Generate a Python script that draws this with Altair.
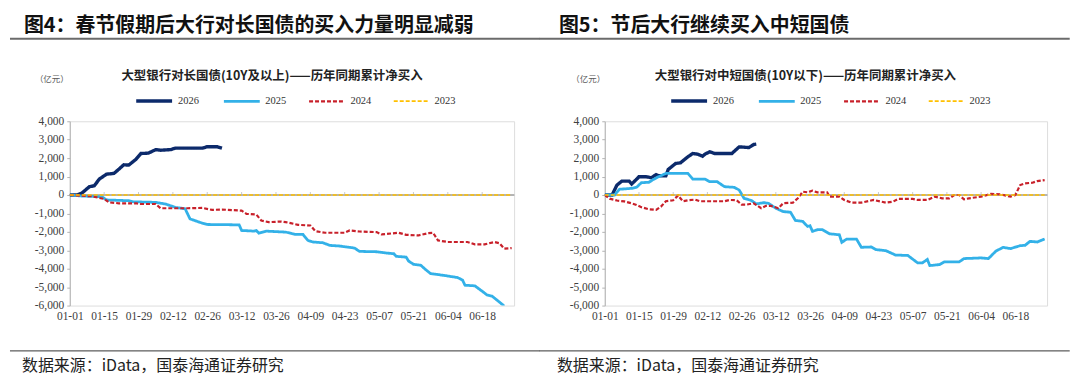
import altair as alt
import pandas as pd

# ---------------- data ----------------
SERIES = ["2026", "2025", "2024", "2023"]
COLORS = ["#0c2a6b", "#33b1e8", "#c8202a", "#ffc000"]
DASHES = [[1, 0], [1, 0], [4, 2], [4, 2]]
WIDTHS = [3.4, 1.6, 1.6, 2.2]

TICK_DAYS = [0, 14, 28, 42, 56, 70, 84, 98, 112, 126, 140, 154, 168]
Y_TICKS = [-6000, -5000, -4000, -3000, -2000, -1000, 0, 1000, 2000, 3000, 4000]

# left panel: long-term bonds (10Y+)
L26_DAY = [0, 3, 5, 8, 10, 12, 15, 18, 20, 22, 24, 27, 29, 32, 35, 37, 41, 43, 54, 56, 60, 62]
L26_VAL = [0, 0, 110, 450, 500, 860, 1130, 1170, 1400, 1640, 1620, 1940, 2250, 2270, 2460, 2430,
           2460, 2540, 2540, 2620, 2620, 2540]
L25_DAY = [0, 5, 13, 15, 24, 26, 35, 39, 43, 47, 49, 51, 54, 56, 69, 70, 75, 76, 77, 80, 88, 92,
           95, 97, 99, 103, 106, 110, 116, 118, 125, 129, 132, 133, 137, 138, 140, 143, 145, 147,
           152, 158, 160, 161, 165, 168, 170, 172, 174, 177]
L25_VAL = [0, -60, -90, -270, -310, -370, -400, -490, -670, -750, -1300, -1390, -1530, -1600,
           -1620, -1925, -1960, -1925, -2070, -1960, -2015, -2140, -2140, -2465, -2550, -2590,
           -2735, -2770, -2880, -3060, -3080, -3150, -3185, -3330, -3370, -3580, -3760, -3815,
           -4050, -4265, -4355, -4480, -4620, -4895, -4930, -5220, -5430, -5485, -5700, -6030]
L24_DAY = [0, 9, 12, 14, 16, 20, 27, 29, 35, 37, 48, 54, 58, 62, 70, 72, 76, 78, 81, 86, 88, 90,
           93, 98, 100, 104, 112, 114, 118, 125, 127, 134, 137, 142, 146, 148, 150, 154, 162, 165,
           169, 173, 175, 177, 180]
L24_VAL = [0, -70, -160, -215, -400, -450, -450, -490, -490, -720, -720, -700, -810, -790, -850,
           -1025, -1060, -1385, -1475, -1440, -1475, -1530, -1620, -1655, -1960, -2050, -2050,
           -1925, -1980, -2015, -2140, -2050, -2160, -2195, -2070, -2050, -2465, -2550, -2550,
           -2680, -2680, -2550, -2620, -2915, -2880]
L23_DAY = [0, 180]
L23_VAL = [0, 0]

# right panel: short/medium-term bonds (<10Y)
R26_DAY = [0, 3, 5, 7, 10, 11, 13, 14, 17, 19, 21, 22, 25, 26, 29, 31, 34, 36, 38, 40, 41, 43,
           45, 52, 55, 59, 61, 62]
R26_VAL = [0, 0, 540, 755, 755, 595, 850, 990, 990, 935, 1100, 1045, 1045, 1390, 1710, 1745,
           2070, 2250, 2215, 2105, 2215, 2345, 2250, 2250, 2610, 2575, 2740, 2760]
R25_DAY = [0, 4, 6, 11, 13, 15, 18, 20, 22, 25, 34, 36, 41, 43, 46, 49, 53, 55, 57, 60, 62, 65,
           67, 70, 73, 76, 78, 81, 83, 84, 85, 87, 89, 92, 96, 97, 99, 103, 105, 109, 111, 115,
           119, 124, 128, 130, 132, 133, 137, 139, 145, 147, 154, 157, 160, 163, 166, 170, 172,
           174, 177, 180]
R25_VAL = [0, 0, 310, 360, 415, 670, 685, 850, 990, 1170, 1170, 865, 865, 720, 720, 450, 415,
           270, -180, -300, -485, -415, -450, -720, -900, -935, -1380, -1435, -1705, -1670,
           -1975, -1885, -1880, -2105, -2160, -2570, -2390, -2390, -2840, -2820, -2965, -3020,
           -3260, -3280, -3680, -3680, -3500, -3830, -3775, -3630, -3630, -3450, -3415, -3450,
           -3050, -2840, -2910, -2750, -2730, -2515, -2550, -2390]
R24_DAY = [0, 1, 2, 5, 8, 11, 13, 15, 18, 21, 23, 25, 28, 30, 32, 34, 37, 39, 49, 51, 54, 56, 58,
           61, 64, 66, 68, 71, 73, 77, 79, 81, 83, 85, 87, 91, 92, 96, 98, 101, 105, 110, 115,
           118, 120, 126, 128, 132, 135, 138, 141, 143, 145, 147, 149, 154, 158, 162, 166, 168,
           170, 172, 175, 177, 180]
R24_VAL = [0, -100, -200, -300, -350, -450, -540, -665, -770, -810, -630, -340, -285, -30, -340,
           -285, -250, -340, -340, -270, -285, -520, -520, -450, -720, -590, -590, -720, -450,
           -415, -180, 180, 145, 235, 145, 145, -90, -90, -270, -415, -415, -270, -415, -360,
           -215, -215, -270, -270, -90, -180, -180, 0, 0, -235, -180, -90, 55, 35, -90, 0, 540,
           630, 665, 755, 810]
R23_DAY = [0, 180]
R23_VAL = [0, 0]

L_FIG_TITLE = "图4：春节假期后大行对长国债的买入力量明显减弱"
R_FIG_TITLE = "图5：节后大行继续买入中短国债"
L_CHART_TITLE = "大型银行对长国债(10Y及以上)——历年同期累计净买入"
R_CHART_TITLE = "大型银行对中短国债(10Y以下)——历年同期累计净买入"
UNIT = "（亿元）"
SOURCE = "数据来源：iData，国泰海通证券研究"

CJK = "Noto Sans CJK SC"
SERIF = "Liberation Serif, Times New Roman, serif"
AXIS_GRAY = "#b4b4b4"


def frame(pairs):
    rows = []
    for name, days, vals in pairs:
        for d, v in zip(days, vals):
            rows.append({"series": name, "day": d, "value": v})
    return pd.DataFrame(rows)


def panel(df, fig_title, chart_title, width, height, line_x0, line_x1, title_cx, unit_x):
    xscale = alt.Scale(domain=[0, 181], nice=False, zero=False)
    yscale = alt.Scale(domain=[-6000, 4000], nice=False)
    xaxis = alt.Axis(values=TICK_DAYS, domain=False, ticks=False, grid=False,
                     labelExpr="timeFormat(datetime(2023, 0, 1 + datum.value), '%m-%d')",
                     labelFont=SERIF, labelFontSize=11.5, labelColor="#404040",
                     labelPadding=5, labelOverlap=False, labelFlush=False, title=None)
    yaxis = alt.Axis(values=Y_TICKS, grid=False, domainColor=AXIS_GRAY, tickColor=AXIS_GRAY,
                     tickSize=3, labelPadding=3, labelOverlap=False, labelFlush=False,
                     labelExpr="replace(format(datum.value, ','), '\u2212', '-')",
                     labelFont=SERIF, labelFontSize=11.5, labelColor="#404040", title=None)
    leg = alt.Legend(orient="none", legendX=64.7, legendY=-40.5, direction="horizontal",
                     title=None, symbolType="stroke", symbolSize=1296, labelFont=SERIF,
                     labelFontSize=10.5, labelColor="#333333", columnPadding=18.5,
                     labelOffset=4)

    base = alt.Chart(df)
    lines = base.mark_line(strokeCap="butt", clip=True).encode(
        x=alt.X("day:Q", scale=xscale, axis=xaxis),
        y=alt.Y("value:Q", scale=yscale, axis=yaxis),
        color=alt.Color("series:N", scale=alt.Scale(domain=SERIES, range=COLORS), legend=leg,
                        sort=SERIES),
        strokeDash=alt.StrokeDash("series:N", scale=alt.Scale(domain=SERIES, range=DASHES),
                                  legend=leg, sort=SERIES),
        strokeWidth=alt.StrokeWidth("series:N", scale=alt.Scale(domain=SERIES, range=WIDTHS),
                                    legend=leg, sort=SERIES),
        order=alt.Order("series:N", sort="ascending"),
    )

    tdf = pd.DataFrame({"day": TICK_DAYS[1:]})
    zero_rule = alt.Chart(tdf).mark_rule(color=AXIS_GRAY, strokeWidth=1).encode(
        y=alt.YDatum(0, scale=yscale, axis=yaxis))
    ticks = alt.Chart(tdf).mark_tick(orient="vertical", size=3, thickness=1, color=AXIS_GRAY,
                                     yOffset=-1.5).encode(
        x=alt.X("day:Q", scale=xscale, axis=xaxis),
        y=alt.YDatum(0, scale=yscale, axis=yaxis))

    one = pd.DataFrame({"a": [0]})
    fig_t = alt.Chart(one).mark_text(text=fig_title, font=CJK, fontSize=20, fontWeight="bold",
                                     align="left", baseline="alphabetic", color="#111111").encode(
        x=alt.value(-46), y=alt.value(-89.5))
    top_line = alt.Chart(one).mark_rule(color="#6b6b6b", strokeWidth=2).encode(
        x=alt.value(line_x0), x2=alt.value(line_x1), y=alt.value(-82.8))
    chart_t = alt.Chart(one).mark_text(text=chart_title, font=CJK, fontSize=12.5,
                                       fontWeight="bold", align="center", baseline="middle",
                                       color="#222222").encode(
        x=alt.value(title_cx), y=alt.value(-45.5))
    unit_t = alt.Chart(one).mark_text(text=UNIT, font=CJK, fontSize=8.5, align="left",
                                      baseline="middle", color="#595959").encode(
        x=alt.value(unit_x), y=alt.value(-42.5))
    bot_line = alt.Chart(one).mark_rule(color="#333333", strokeWidth=1).encode(
        x=alt.value(line_x0), x2=alt.value(line_x1), y=alt.value(230.5))
    src_t = alt.Chart(one).mark_text(text=SOURCE, font=CJK, fontSize=16, align="left",
                                     baseline="middle", color="#222222").encode(
        x=alt.value(-48), y=alt.value(245.5))
    pin_top = alt.Chart(one).mark_rule(color="white", strokeWidth=1).encode(
        x=alt.value(line_x0), x2=alt.value(line_x0 + 1), y=alt.value(-111.5))
    pin_bot = alt.Chart(one).mark_rule(color="white", strokeWidth=1).encode(
        x=alt.value(line_x1 - 1), x2=alt.value(line_x1), y=alt.value(253.5))

    return alt.layer(zero_rule, ticks, lines, fig_t, top_line, chart_t, unit_t, bot_line,
                     src_t, pin_top, pin_bot).properties(width=width, height=height)


left_df = frame([("2026", L26_DAY, L26_VAL), ("2025", L25_DAY, L25_VAL),
                 ("2024", L24_DAY, L24_VAL), ("2023", L23_DAY, L23_VAL)])
right_df = frame([("2026", R26_DAY, R26_VAL), ("2025", R25_DAY, R25_VAL),
                  ("2024", R24_DAY, R24_VAL), ("2023", R23_DAY, R23_VAL)])

left = panel(left_df, L_FIG_TITLE, L_CHART_TITLE, 446, 185, -60, 472, 203, -35)
right = panel(right_df, R_FIG_TITLE, R_CHART_TITLE, 444, 185, -65.3, 466.7, 201.4, -33.6)

chart = alt.HConcatChart(hconcat=[left, right], spacing=91, bounds="flush", padding=0)
chart = chart.resolve_scale(color="independent", strokeDash="independent",
                            strokeWidth="independent").resolve_legend(
    color="independent", strokeDash="independent", strokeWidth="independent"
).configure_view(stroke=None).configure(background="white")

chart.save("out.html", embed_options={"renderer": "svg", "actions": False})
